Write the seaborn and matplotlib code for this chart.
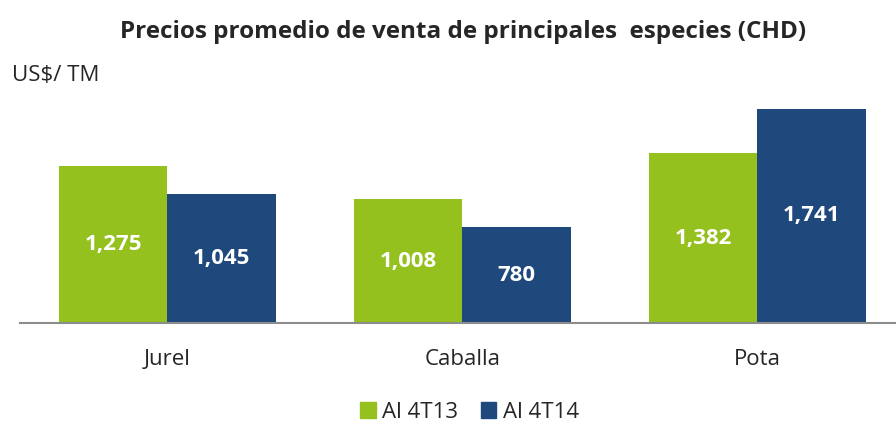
import pandas as pd
import seaborn as sns
import matplotlib.pyplot as plt

# datos del grafico
especies = ['Jurel', 'Caballa', 'Pota']
periodos = ['Al 4T13', 'Al 4T14']
precios_4t13 = [1275, 1008, 1382]
precios_4t14 = [1045, 780, 1741]

colores = ['#95C11F', '#1F497D']

df = pd.DataFrame({
    'especie': especies * 2,
    'periodo': [periodos[0]] * 3 + [periodos[1]] * 3,
    'precio': precios_4t13 + precios_4t14,
})

sns.set_style('white')
plt.rcParams['font.family'] = ['Open Sans', 'DejaVu Sans']

fig = plt.figure(figsize=(8.96, 4.25), dpi=100)
ax = fig.add_axes([0.0223, 0.24, 0.9877, 0.5788])

sns.barplot(data=df, x='especie', y='precio', hue='periodo', palette=colores,
            width=0.733, gap=0, saturation=1, errorbar=None, ax=ax, legend=False,
            linewidth=0)

# etiquetas blancas dentro de las barras
for cont in ax.containers:
    for bar in cont:
        h = bar.get_height()
        ax.text(bar.get_x() + bar.get_width() / 2, h / 2, f'{h:,.0f}',
                ha='center', va='center', color='white', fontsize=16, fontweight='bold')

ax.set_ylim(0, 2000)
ax.set_xlim(-0.5, 2.5)
ax.set_xlabel('')
ax.set_ylabel('')
ax.set_yticks([])
for s in ['top', 'right', 'left']:
    ax.spines[s].set_visible(False)
ax.spines['bottom'].set_color('#8C8C8C')
ax.spines['bottom'].set_linewidth(1.5)
ax.tick_params(axis='x', length=0, pad=19, labelsize=16)

fig.text(0.517, 0.925, 'Precios promedio de venta de principales  especies (CHD)',
         ha='center', va='center', fontsize=17.5, fontweight='bold')
fig.text(0.013, 0.823, 'US$/ TM', ha='left', va='center', fontsize=16)

handles = [plt.Rectangle((0, 0), 1, 1, color=c) for c in colores]
fig.legend(handles, periodos, loc='center', bbox_to_anchor=(0.524, 0.03), ncol=2,
           frameon=False, fontsize=16, handlelength=0.7, handleheight=0.7,
           handletextpad=0.3, columnspacing=1.0)

fig.savefig('out.png', dpi=100)
